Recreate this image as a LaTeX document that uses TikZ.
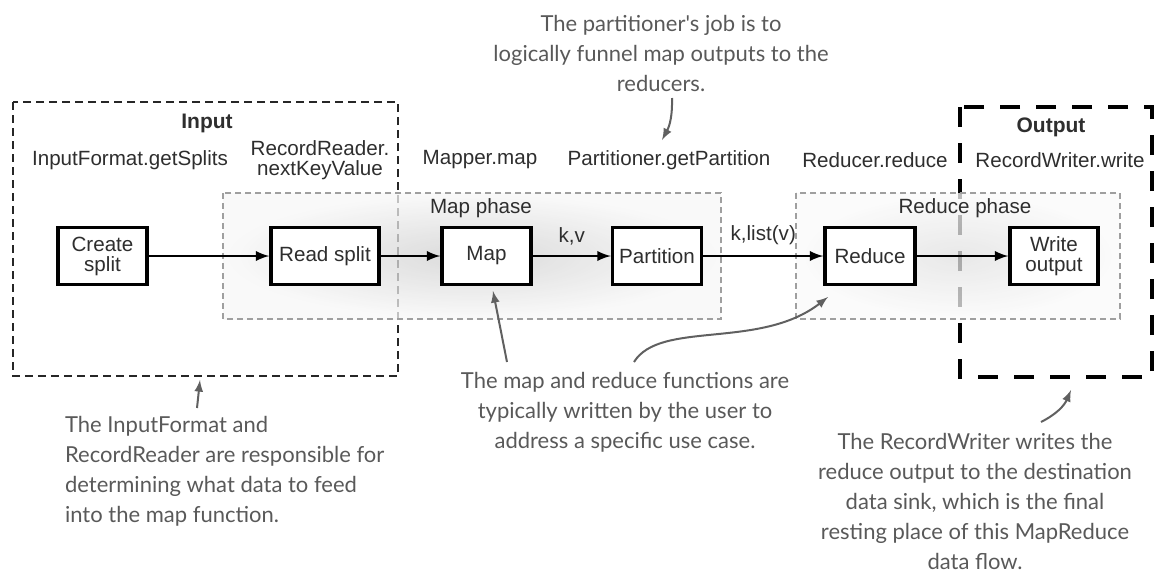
\documentclass[tikz,border=0pt]{standalone}
\usepackage{fontspec}
\setmainfont{Liberation Sans}
\newfontfamily\notefont{Lato}
\usepackage{tikz}
\usepackage{amsmath}

\definecolor{txtgray}{HTML}{2E2E2E}
\definecolor{notegray}{HTML}{595959}

\tikzset{
	stepbox/.style={draw=black, line width=1.7pt, fill=white, minimum height=28.5pt, inner sep=0pt, align=center, text=txtgray, font=\fontsize{10.3}{10}\selectfont},
	flow/.style={-latex, line width=1.3pt},
	phasebox/.style={draw=gray!75, densely dashed, line width=0.6pt, shading=radial, inner color=gray!38, outer color=gray!6, fill opacity=0.75},
	fname/.style={align=center, text=txtgray, font=\fontsize{10.3}{10}\selectfont},
	note/.style={text=notegray, font=\notefont\fontsize{11}{15}\selectfont},
	notearrow/.style={-latex, draw=gray!75!black, line width=1pt},
}

\begin{document}
\begin{tikzpicture}[x=0.5pt, y=-0.5pt]
			\useasboundingbox (0, 0) rectangle (1158, 574);
			% 输入、输出框
			\draw[gray!30!black, dashed, line width=0.9pt, dash pattern=on 4pt off 2.5pt] (13, 102) rectangle (398, 376);
			\node[font=\bfseries\fontsize{10.5}{12}\selectfont, text=txtgray] (input) at (207, 123) {Input};
			\draw[black, line width=1.6pt, dash pattern=on 10pt off 8pt] (960, 107) rectangle (1152, 377);
			\node[font=\bfseries\fontsize{10.5}{12}\selectfont, text=txtgray] (output) at (1051, 127) {Output};
			% 阶段
			\path[phasebox] (223, 193) rectangle (721, 319);
			\path[phasebox, inner color=gray!24, outer color=gray!4] (796, 193) rectangle (1120, 319);
			\node[fname] (mapphase) at (481, 208) {Map phase};
			\node[fname] (reducephase) at (965, 208) {Reduce phase};
			% 方法名
			\foreach \x/\name/\ftext in {130/getsplits/InputFormat.getSplits, 320/nextkey/RecordReader.\\nextKeyValue, 480/mappermap/Mapper.map, 669/getpart/Partitioner.getPartition, 875/reducerreduce/Reducer.reduce, 1060/writerwrite/RecordWriter.write}
			\node[fname] (\name) at (\x, 160) {\ftext};
			% 步骤
			\node[stepbox, minimum width=44.5pt] (create) at (102.5, 256) {Create\\split};
			\node[stepbox, minimum width=54pt] (read) at (325, 256) {Read split};
			\node[stepbox, minimum width=44.5pt] (map) at (486.5, 256) {Map};
			\node[stepbox, minimum width=44.5pt] (part) at (657, 256) {Partition};
			\node[stepbox, minimum width=45pt] (reduce) at (870, 256) {Reduce};
			\node[stepbox, minimum width=44pt] (write) at (1054, 256) {Write\\output};
			% 箭头
			\foreach \a/\b in {create/read, read/map, reduce/write}
			\draw[flow] (\a) -- (\b);
			\draw[flow] (map) -- node[fname, above=1.5pt] (kv) {k,v} (part);
			\draw[flow] (part) -- node[fname, above=1.5pt] (klist) {k,list(v)} (reduce);
			% 注释
			\node[note, align=center] (partnote) at (661, 53) {The partitioner's job is to\\logically funnel map outputs to the\\reducers.};
			\node[note, align=left, anchor=west] (inputnote) at (58, 471) {The InputFormat and\\RecordReader are responsible for\\determining what data to feed\\into the map function.};
			\node[note, align=center] (usernote) at (625, 412) {The map and reduce functions are\\typically written by the user to\\address a specific use case.};
			\node[note, align=center] (writernote) at (975, 501) {The RecordWriter writes the\\reduce output to the destination\\data sink, which is the final\\resting place of this MapReduce\\data flow.};
			\coordinate (partfrom) at (672, 98);
			\coordinate (partto) at (662, 140);
			\coordinate (inputfrom) at (197, 408);
			\coordinate (inputto) at (200, 380);
			\coordinate (mapfrom) at (507, 362);
			\coordinate (mapto) at (493, 291);
			\coordinate (reducefrom) at (634, 362);
			\coordinate (reduceto) at (828, 297);
			\coordinate (writerfrom) at (1041, 422);
			\coordinate (writerto) at (1071, 390);
			\draw[notearrow] (partfrom) to[bend left=15] (partto);
			\draw[notearrow] (inputfrom) -- (inputto);
			\draw[notearrow] (mapfrom) -- (mapto);
			\draw[notearrow] (reducefrom) .. controls (660, 320) and (760, 350) .. (reduceto);
			\draw[notearrow] (writerfrom) to[bend right=20] (writerto);
		\end{tikzpicture}
\end{document}
